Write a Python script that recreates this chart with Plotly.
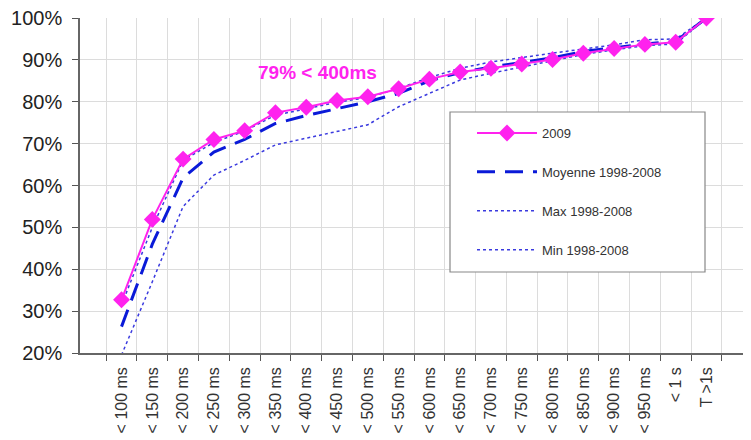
import plotly.graph_objects as go

categories = ["< 100 ms", "< 150 ms", "< 200 ms", "< 250 ms", "< 300 ms", "< 350 ms",
              "< 400 ms", "< 450 ms", "< 500 ms", "< 550 ms", "< 600 ms", "< 650 ms",
              "< 700 ms", "< 750 ms", "< 800 ms", "< 850 ms", "< 900 ms", "< 950 ms",
              "< 1 s", "T >1s"]

y2009 = [32.7, 51.9, 66.3, 71.0, 73.1, 77.4, 78.7, 80.3, 81.2, 83.1, 85.4, 87.1,
         88.0, 89.0, 90.1, 91.6, 92.7, 93.7, 94.2, 100.0]
moyenne = [26.3, 46.0, 61.8, 68.0, 71.0, 74.8, 76.7, 78.3, 80.0, 82.0, 85.0, 87.0,
           88.3, 89.4, 90.5, 92.0, 92.9, 93.8, 94.4, 100.0]
maxv = [31.5, 50.0, 66.0, 70.3, 73.0, 76.8, 78.3, 79.9, 81.0, 83.2, 85.8, 88.0,
        89.5, 90.6, 91.6, 92.6, 93.6, 94.8, 95.0, 100.0]
minv = [19.5, 37.0, 55.0, 62.5, 66.0, 69.7, 71.3, 72.9, 74.5, 78.8, 82.0, 85.2,
        86.8, 88.3, 89.7, 91.3, 92.4, 93.4, 93.8, 100.0]

series_names = ["2009", "Moyenne 1998-2008", "Max 1998-2008", "Min 1998-2008"]
annotation_text = "79% < 400ms"

fig = go.Figure()
fig.add_trace(go.Scatter(x=categories, y=maxv, name=series_names[2], mode="lines",
                         line=dict(color="#3a3adf", width=1.5, dash="dot"),
                         legendgroup="c", legendrank=3))
fig.add_trace(go.Scatter(x=categories, y=minv, name=series_names[3], mode="lines",
                         line=dict(color="#3a3adf", width=1.5, dash="dot"),
                         legendgroup="d", legendrank=4))
fig.add_trace(go.Scatter(x=categories, y=moyenne, name=series_names[1], mode="lines",
                         line=dict(color="#0a1ad8", width=3, dash="18px,10px"),
                         legendgroup="b", legendrank=2))
fig.add_trace(go.Scatter(x=categories, y=y2009, name=series_names[0], mode="lines+markers",
                         line=dict(color="#ff22ee", width=2),
                         marker=dict(symbol="diamond", size=13, color="#ff22ee"),
                         legendgroup="a", legendrank=1))

fig.add_annotation(x=0.355, y=87.0, xref="paper", yref="y", text="<b>" + annotation_text + "</b>",
                   showarrow=False, font=dict(color="#ff22ee", size=19, family="Liberation Sans, Arial"),
                   xanchor="center", yanchor="middle")

# legend frame
fig.add_shape(type="rect", xref="paper", yref="paper",
              x0=(450 - 80) / 668, x1=(705 - 80) / 668,
              y0=(353 - 272) / 335, y1=(353 - 112) / 335,
              line=dict(color="#888", width=1.2), fillcolor="white", layer="above")

# page body has an 8px margin: the figure is drawn 8px in and down
fig.update_layout(
    width=743, height=432,
    margin=dict(l=72, r=3, t=10, b=87),
    paper_bgcolor="white", plot_bgcolor="white",
    font=dict(family="Liberation Sans, Arial", color="#222"),
    showlegend=True,
    legend=dict(x=(472 - 80) / 668, y=(353 - 118) / 335, xanchor="left", yanchor="top",
                bgcolor="rgba(0,0,0,0)", borderwidth=0,
                font=dict(size=13, color="#333"), tracegroupgap=19,
                itemwidth=60, traceorder="grouped"),
)
fig.update_xaxes(type="category", tickson="boundaries", ticks="outside", ticklen=6,
                 tickcolor="#555", showgrid=True, gridcolor="#dcdcdc", gridwidth=1,
                 showline=True, linecolor="#666", linewidth=1.5, tickangle=-90,
                 tickfont=dict(size=16, color="#333"), automargin=False,
                 ticklabelstandoff=6, ticklabeloverflow="allow")
fig.update_yaxes(range=[20, 100], dtick=10, ticksuffix="%", ticks="outside", ticklen=6,
                 tickcolor="#555", showgrid=True, gridcolor="#dcdcdc", gridwidth=1,
                 showline=True, linecolor="#666", linewidth=1.5,
                 tickfont=dict(size=20, color="#222"), zeroline=False, automargin=False,
                 ticklabelstandoff=6, ticklabeloverflow="allow")

fig.write_html("out.html")
